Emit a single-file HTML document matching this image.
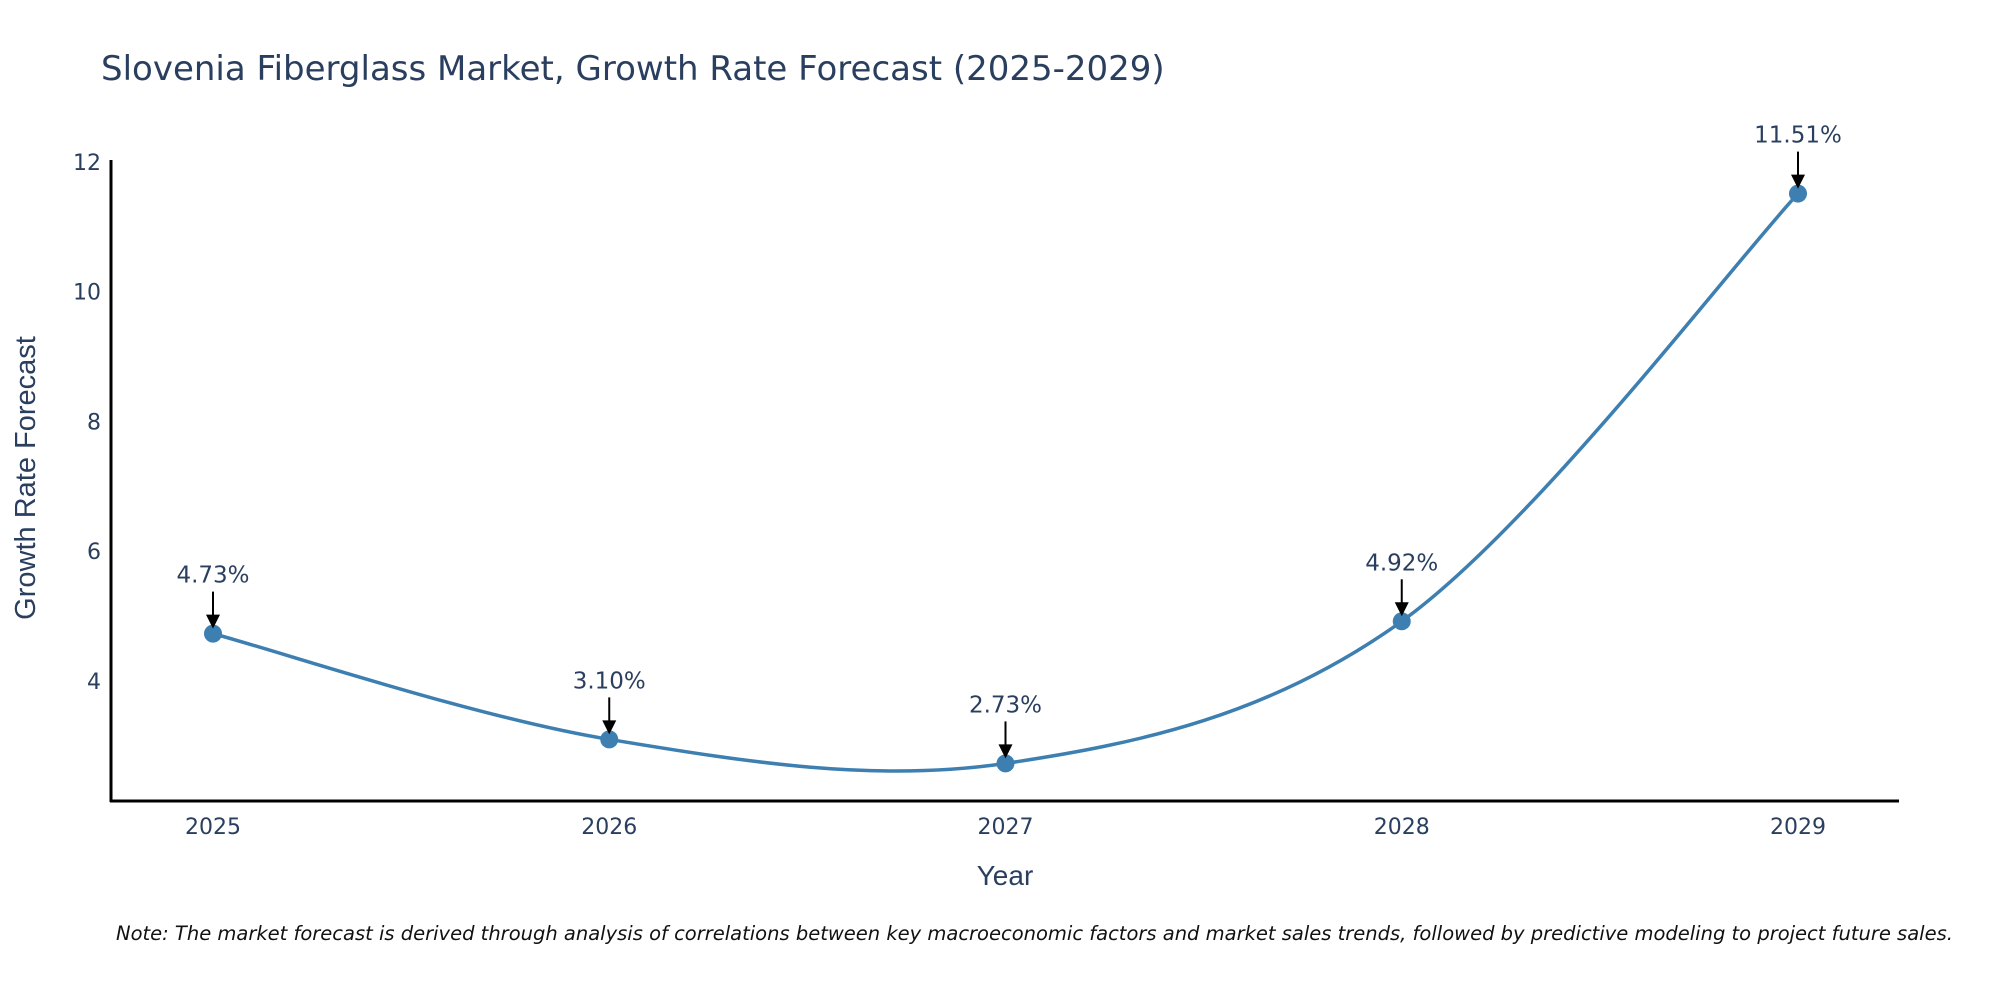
<!DOCTYPE html>
<html><head><meta charset="utf-8"><style>
body{margin:0;background:#fff;}
svg text{font-family:"DejaVu Sans","Liberation Sans",sans-serif;}
</style></head><body>
<svg id="chart" width="2000" height="1000" xmlns="http://www.w3.org/2000/svg">
<rect width="2000" height="1000" fill="#fff"/>
<text x="101" y="80" font-size="34" fill="#2a3f5f">Slovenia Fiberglass Market, Growth Rate Forecast (2025-2029)</text>
<g id="axes"></g>
<g id="series"></g>
<text x="1005" y="885" font-size="28" fill="#2a3f5f" text-anchor="middle" style="font-family:'Liberation Sans',sans-serif">Year</text>
<text transform="translate(35,478) rotate(-90)" font-size="29" fill="#2a3f5f" text-anchor="middle" style="font-family:'Liberation Sans',sans-serif">Growth Rate Forecast</text>
<text x="116" y="940" font-size="19.5" font-style="italic" fill="#111">Note: The market forecast is derived through analysis of correlations between key macroeconomic factors and market sales trends, followed by predictive modeling to project future sales.</text>
</svg>
<script>
const years = [2025, 2026, 2027, 2028, 2029];
const growthValues = [4.73, 3.10, 2.73, 4.92, 11.51];
const valueLabels = ["4.73%", "3.10%", "2.73%", "4.92%", "11.51%"];
const yTicks = [4, 6, 8, 10, 12];

const NS = "http://www.w3.org/2000/svg";
const xPos = y => 213 + (y - 2025) * 396.25;
const yPos = v => 681 - (v - 4) * 64.9;
function mk(tag, attrs, parent){const e=document.createElementNS(NS,tag);for(const k in attrs)e.setAttribute(k,attrs[k]);parent.appendChild(e);return e;}
const axes=document.getElementById('axes'), series=document.getElementById('series');

let yl=mk('line',{x1:111,y1:160,x2:111,y2:802,stroke:'#000','stroke-width':3},axes);


let xl=mk('line',{x1:110,y1:801,x2:1899,y2:801,stroke:'#000','stroke-width':3},axes);



yTicks.forEach(t=>{
  const tx=mk('text',{x:101,y:yPos(t)+8,'font-size':22,fill:'#2a3f5f','text-anchor':'end'},axes);
  tx.textContent=t;
  
  
});
years.forEach(y=>{
  const tx=mk('text',{x:xPos(y),y:834,'font-size':22,fill:'#2a3f5f','text-anchor':'middle'},axes);
  tx.textContent=y;
  
  
});

const pts=years.map((y,i)=>[xPos(y),yPos(growthValues[i])]);
let d='M'+pts[0][0]+','+pts[0][1];
const s=1/6;
for(let i=0;i<pts.length-1;i++){
  const p0=pts[Math.max(i-1,0)],p1=pts[i],p2=pts[i+1],p3=pts[Math.min(i+2,pts.length-1)];
  const c1=[p1[0]+(p2[0]-p0[0])*s,p1[1]+(p2[1]-p0[1])*s];
  const c2=[p2[0]-(p3[0]-p1[0])*s,p2[1]-(p3[1]-p1[1])*s];
  d+=` C${c1[0]},${c1[1]} ${c2[0]},${c2[1]} ${p2[0]},${p2[1]}`;
}
const line=mk('path',{d:d,fill:'none',stroke:'#3d7fb0','stroke-width':3.5},series);



pts.forEach((p,i)=>{
  const c=mk('circle',{cx:p[0],cy:p[1],r:9,fill:'#3d7fb0'},series);
  
  
  const a=mk('line',{x1:p[0],y1:p[1]-42,x2:p[0],y2:p[1]-18,stroke:'#000','stroke-width':2},series);
  
  
  const h=mk('polygon',{points:`${p[0]-7},${p[1]-19} ${p[0]+7},${p[1]-19} ${p[0]},${p[1]-5}`,fill:'#000'},series);
  
  
  const t=mk('text',{x:p[0],y:p[1]-51,'font-size':23,fill:'#2a3f5f','text-anchor':'middle'},series);
  t.textContent=valueLabels[i];
  
  
});
</script>
</body></html>
